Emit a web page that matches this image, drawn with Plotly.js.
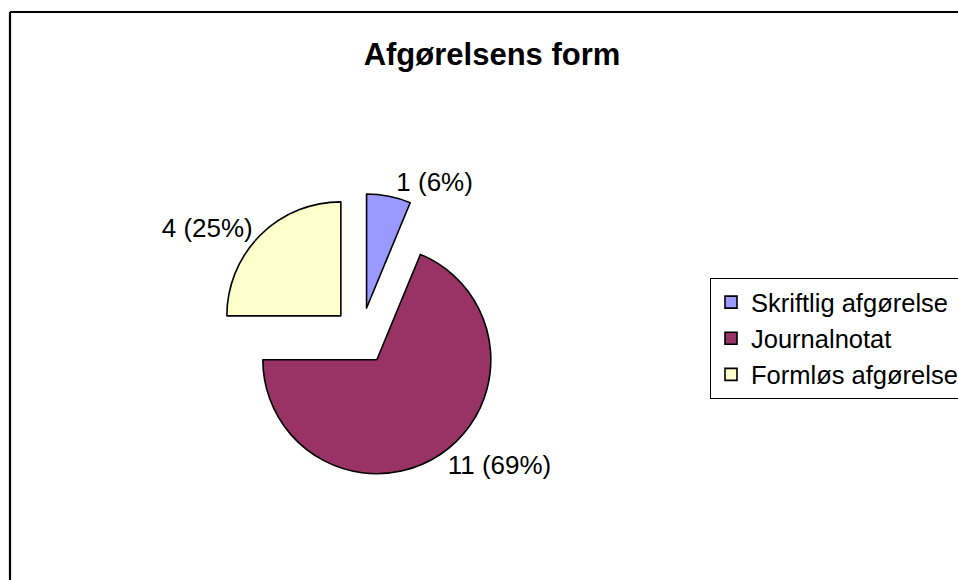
<!DOCTYPE html>
<html>
<head>
<meta charset="utf-8">
<script src="https://cdn.plot.ly/plotly-3.0.1.min.js"></script>
<style>html,body{margin:0;padding:0;background:#fff;}#chart{width:958px;height:580px;}</style>
</head>
<body>
<div id="chart"></div>
<script>
const categories = ["Skriftlig afgørelse", "Journalnotat", "Formløs afgørelse"];
const values = [1, 11, 4];
const sliceColors = ["#9999FF", "#993366", "#FFFFCC"];
const titleText = "Afgørelsens form";

const W = 958, H = 580;
const cx = 361, cy = 336, half = 142.5;

const trace = {
  type: "pie",
  labels: categories,
  values: values,
  sort: false,
  direction: "clockwise",
  rotation: 0,
  pull: [0.25, 0.25, 0.25],
  marker: { colors: sliceColors, line: { color: "#000000", width: 1.6 } },
  texttemplate: "%{value} (%{percent:.0%})",
  textposition: "outside",
  outsidetextfont: { family: "Liberation Sans, Arial, sans-serif", size: 26, color: "#000" },
  hoverinfo: "none",
  automargin: false,
  domain: {
    x: [(cx - half) / W, (cx + half) / W],
    y: [1 - (cy + half) / H, 1 - (cy - half) / H]
  }
};

const layout = {
  width: W, height: H,
  margin: { l: 0, r: 0, t: 0, b: 0, autoexpand: false },
  paper_bgcolor: "#ffffff",
  font: { family: "Liberation Sans, Arial, sans-serif", color: "#000" },
  title: {
    text: "<b>" + titleText + "</b>",
    font: { family: "Liberation Sans, Arial, sans-serif", size: 31, color: "#000" },
    x: 492 / W, xanchor: "center",
    y: 1 - 54 / H, yanchor: "middle"
  },
  showlegend: true,
  legend: {
    x: 710 / W, xanchor: "left",
    y: 1 - 278 / H, yanchor: "top",
    bordercolor: "#000", borderwidth: 1, bgcolor: "#fff",
    font: { family: "Liberation Sans, Arial, sans-serif", size: 25.5, color: "#000" },
    traceorder: "normal"
  },
  shapes: [
    { type: "line", xref: "paper", yref: "paper", x0: 10 / W, x1: 10 / W, y0: -0.05, y1: 1 - 12 / H, line: { color: "#000", width: 2.2 } },
    { type: "line", xref: "paper", yref: "paper", x0: 10 / W, x1: 1.05, y0: 1 - 12 / H, y1: 1 - 12 / H, line: { color: "#000", width: 2.2 } }
  ]
};

Plotly.newPlot("chart", [trace], layout, { displayModeBar: false, staticPlot: true });
</script>
</body>
</html>
